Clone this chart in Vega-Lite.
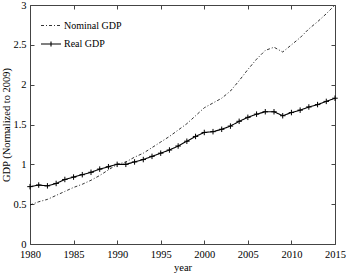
{
  "$schema": "https://vega.github.io/schema/vega-lite/v6.json",
  "width": 305,
  "height": 239,
  "autosize": {"type": "none"},
  "padding": {"left": 30, "top": 5, "right": 11, "bottom": 31},
  "background": "white",
  "config": {
    "view": {"stroke": null},
    "font": "Liberation Serif",
    "axis": {
      "grid": false,
      "domainColor": "#444",
      "tickColor": "#444",
      "tickSize": -4,
      "labelFlush": false,
      "labelOverlap": false,
      "labelFont": "Liberation Serif",
      "labelFontSize": 10.5,
      "labelColor": "black",
      "titleFont": "Liberation Serif",
      "titleFontSize": 10.5,
      "titleFontWeight": "normal",
      "titleColor": "black"
    },
    "legend": {
      "labelFont": "Liberation Serif",
      "labelFontSize": 10,
      "labelColor": "black"
    }
  },
  "data": {
    "values": [
      {"year": 1980, "series": "Nominal GDP", "value": 0.49},
      {"year": 1981, "series": "Nominal GDP", "value": 0.53},
      {"year": 1982, "series": "Nominal GDP", "value": 0.56},
      {"year": 1983, "series": "Nominal GDP", "value": 0.61},
      {"year": 1984, "series": "Nominal GDP", "value": 0.66},
      {"year": 1985, "series": "Nominal GDP", "value": 0.71},
      {"year": 1986, "series": "Nominal GDP", "value": 0.75},
      {"year": 1987, "series": "Nominal GDP", "value": 0.80},
      {"year": 1988, "series": "Nominal GDP", "value": 0.86},
      {"year": 1989, "series": "Nominal GDP", "value": 0.93},
      {"year": 1990, "series": "Nominal GDP", "value": 1.00},
      {"year": 1991, "series": "Nominal GDP", "value": 1.03},
      {"year": 1992, "series": "Nominal GDP", "value": 1.09},
      {"year": 1993, "series": "Nominal GDP", "value": 1.14},
      {"year": 1994, "series": "Nominal GDP", "value": 1.21},
      {"year": 1995, "series": "Nominal GDP", "value": 1.28},
      {"year": 1996, "series": "Nominal GDP", "value": 1.35},
      {"year": 1997, "series": "Nominal GDP", "value": 1.43},
      {"year": 1998, "series": "Nominal GDP", "value": 1.51},
      {"year": 1999, "series": "Nominal GDP", "value": 1.61},
      {"year": 2000, "series": "Nominal GDP", "value": 1.71},
      {"year": 2001, "series": "Nominal GDP", "value": 1.77},
      {"year": 2002, "series": "Nominal GDP", "value": 1.83},
      {"year": 2003, "series": "Nominal GDP", "value": 1.92},
      {"year": 2004, "series": "Nominal GDP", "value": 2.05},
      {"year": 2005, "series": "Nominal GDP", "value": 2.19},
      {"year": 2006, "series": "Nominal GDP", "value": 2.32},
      {"year": 2007, "series": "Nominal GDP", "value": 2.43},
      {"year": 2008, "series": "Nominal GDP", "value": 2.47},
      {"year": 2009, "series": "Nominal GDP", "value": 2.41},
      {"year": 2010, "series": "Nominal GDP", "value": 2.50},
      {"year": 2011, "series": "Nominal GDP", "value": 2.59},
      {"year": 2012, "series": "Nominal GDP", "value": 2.70},
      {"year": 2013, "series": "Nominal GDP", "value": 2.79},
      {"year": 2014, "series": "Nominal GDP", "value": 2.89},
      {"year": 2015, "series": "Nominal GDP", "value": 3.00},
      {"year": 1980, "series": "Real GDP", "value": 0.72},
      {"year": 1981, "series": "Real GDP", "value": 0.74},
      {"year": 1982, "series": "Real GDP", "value": 0.73},
      {"year": 1983, "series": "Real GDP", "value": 0.76},
      {"year": 1984, "series": "Real GDP", "value": 0.81},
      {"year": 1985, "series": "Real GDP", "value": 0.84},
      {"year": 1986, "series": "Real GDP", "value": 0.87},
      {"year": 1987, "series": "Real GDP", "value": 0.90},
      {"year": 1988, "series": "Real GDP", "value": 0.94},
      {"year": 1989, "series": "Real GDP", "value": 0.97},
      {"year": 1990, "series": "Real GDP", "value": 1.00},
      {"year": 1991, "series": "Real GDP", "value": 1.00},
      {"year": 1992, "series": "Real GDP", "value": 1.03},
      {"year": 1993, "series": "Real GDP", "value": 1.06},
      {"year": 1994, "series": "Real GDP", "value": 1.10},
      {"year": 1995, "series": "Real GDP", "value": 1.14},
      {"year": 1996, "series": "Real GDP", "value": 1.18},
      {"year": 1997, "series": "Real GDP", "value": 1.23},
      {"year": 1998, "series": "Real GDP", "value": 1.29},
      {"year": 1999, "series": "Real GDP", "value": 1.35},
      {"year": 2000, "series": "Real GDP", "value": 1.40},
      {"year": 2001, "series": "Real GDP", "value": 1.41},
      {"year": 2002, "series": "Real GDP", "value": 1.44},
      {"year": 2003, "series": "Real GDP", "value": 1.48},
      {"year": 2004, "series": "Real GDP", "value": 1.54},
      {"year": 2005, "series": "Real GDP", "value": 1.59},
      {"year": 2006, "series": "Real GDP", "value": 1.63},
      {"year": 2007, "series": "Real GDP", "value": 1.66},
      {"year": 2008, "series": "Real GDP", "value": 1.66},
      {"year": 2009, "series": "Real GDP", "value": 1.61},
      {"year": 2010, "series": "Real GDP", "value": 1.65},
      {"year": 2011, "series": "Real GDP", "value": 1.68},
      {"year": 2012, "series": "Real GDP", "value": 1.72},
      {"year": 2013, "series": "Real GDP", "value": 1.75},
      {"year": 2014, "series": "Real GDP", "value": 1.79},
      {"year": 2015, "series": "Real GDP", "value": 1.83}
    ]
  },
  "layer": [
    {
      "mark": {"type": "line", "color": "black"},
      "encoding": {
        "x": {
          "field": "year", "type": "quantitative",
          "scale": {"domain": [1980, 2015], "nice": false, "zero": false},
          "axis": {"orient": "bottom", "title": "year", "values": [1980, 1985, 1990, 1995, 2000, 2005, 2010, 2015], "format": "d", "labelPadding": 9, "titlePadding": 3}
        },
        "y": {
          "field": "value", "type": "quantitative",
          "scale": {"domain": [0, 3], "nice": false},
          "axis": {"orient": "left", "title": "GDP (Normalized to 2009)", "values": [0, 0.5, 1, 1.5, 2, 2.5, 3], "format": "~g", "labelPadding": 8, "titlePadding": 1}
        },
        "strokeDash": {
          "field": "series", "type": "nominal",
          "scale": {"domain": ["Nominal GDP", "Real GDP"], "range": [[3, 2, 1, 2], [1, 0]]},
          "legend": {
            "title": null,
            "orient": "top-left",
            "offset": 10,
            "padding": 0,
            "symbolType": "stroke",
            "symbolSize": 400,
            "symbolStrokeColor": "black",
            "labelOffset": 2,
            "rowPadding": 2,
            "encode": {"symbols": {"update": {"shape": {"signal": "datum.value === 'Real GDP' ? 'M-1,0H1M0,-0.25V0.25' : 'stroke'"}}}}
          }
        },
        "strokeWidth": {
          "field": "series", "type": "nominal",
          "scale": {"domain": ["Nominal GDP", "Real GDP"], "range": [0.8, 1.1]},
          "legend": null
        }
      }
    },
    {
      "transform": [{"filter": "datum.series === 'Real GDP'"}],
      "mark": {"type": "point", "shape": "M-1,0H1M0,-1V1", "filled": false, "stroke": "black", "strokeWidth": 1, "size": 30, "opacity": 1},
      "encoding": {
        "x": {"field": "year", "type": "quantitative", "axis": {"orient": "top", "labels": false, "title": null, "values": [1980, 1985, 1990, 1995, 2000, 2005, 2010, 2015]}},
        "y": {"field": "value", "type": "quantitative", "axis": {"orient": "right", "labels": false, "title": null, "values": [0, 0.5, 1, 1.5, 2, 2.5, 3]}}
      }
    }
  ],
  "resolve": {"axis": {"x": "independent", "y": "independent"}}
}
